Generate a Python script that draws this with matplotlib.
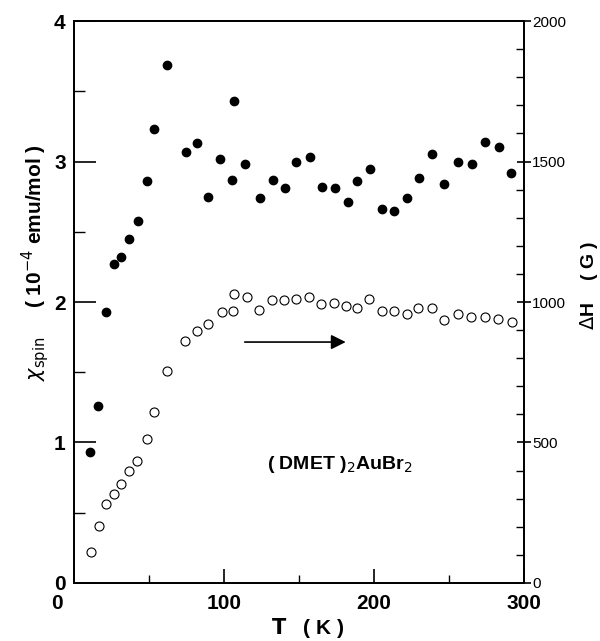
import matplotlib
matplotlib.use('Agg')
import matplotlib.pyplot as plt
from matplotlib.ticker import MultipleLocator
import matplotlib.transforms as mtransforms

plt.rcParams['font.family'] = ['Liberation Sans', 'DejaVu Sans']

# spin susceptibility (filled circles), 10^-4 emu/mol
t_chi = [10.7, 16.2, 21.1, 26.7, 31.6, 36.9, 42.4, 48.9, 53.5, 61.8,
         74.7, 81.8, 89.1, 97.6, 105.3, 106.7, 114.2, 123.8, 132.9, 140.7,
         147.8, 157.3, 165.1, 174.0, 182.4, 188.9, 197.3, 205.3, 213.3, 222.2,
         230.2, 238.7, 246.7, 256.0, 265.3, 274.0, 283.3, 291.3]
chi = [0.93, 1.26, 1.93, 2.27, 2.32, 2.45, 2.58, 2.86, 3.23, 3.69,
       3.07, 3.13, 2.75, 3.02, 2.87, 3.43, 2.98, 2.74, 2.87, 2.81,
       3.00, 3.03, 2.82, 2.81, 2.71, 2.86, 2.95, 2.66, 2.65, 2.74,
       2.88, 3.05, 2.84, 3.00, 2.98, 3.14, 3.10, 2.92]

# linewidth (open circles), G
t_dh = [11.1, 16.7, 21.6, 26.9, 31.6, 36.9, 42.0, 48.9, 53.3, 61.8,
        74.2, 82.2, 89.6, 98.4, 106.0, 106.7, 115.1, 123.6, 131.8, 140.2,
        148.0, 156.9, 164.9, 173.3, 181.6, 188.7, 196.7, 205.3, 213.1, 222.0,
        229.3, 238.9, 246.9, 256.0, 264.9, 274.0, 282.9, 291.8]
dh = [111, 203, 281, 316, 351, 397, 433, 512, 610, 753,
      862, 898, 923, 966, 967, 1027, 1019, 972, 1006, 1007,
      1011, 1019, 994, 997, 986, 978, 1010, 967, 967, 957,
      978, 978, 936, 958, 948, 948, 938, 930]

fig = plt.figure(figsize=(6.0, 6.41), dpi=100)
ax = fig.add_axes([0.1233, 0.0905, 0.75, 0.8767])
ax2 = ax.twinx()

ax.plot(t_chi, chi, 'o', color='black', markersize=6, zorder=3)
ax2.plot(t_dh, dh, 'o', markerfacecolor='none', markeredgecolor='black',
         markersize=6.5, markeredgewidth=0.8, zorder=3)

ax.set_xlim(0, 300)
ax.set_ylim(0, 4)
ax2.set_ylim(0, 2000)

ax.xaxis.set_major_locator(MultipleLocator(100))
ax.xaxis.set_minor_locator(MultipleLocator(50))
ax.yaxis.set_major_locator(MultipleLocator(1))
ax.yaxis.set_minor_locator(MultipleLocator(0.5))
ax2.yaxis.set_major_locator(MultipleLocator(500))
ax2.yaxis.set_minor_locator(MultipleLocator(100))

ax.tick_params(axis='x', which='major', direction='in', length=10, width=1.2,
               labelsize=15, pad=8)
ax.tick_params(axis='x', which='minor', direction='in', length=6, width=1.0)
ax.tick_params(axis='y', which='major', direction='in', length=16, width=1.2,
               labelsize=15, pad=6, right=False)
ax.tick_params(axis='y', which='minor', direction='in', length=8, width=1.0, right=False)
ax2.tick_params(axis='y', which='major', direction='inout', length=10, width=1.2,
                labelsize=11, pad=1)
ax2.tick_params(axis='y', which='minor', direction='in', length=6, width=1.0)

for a in (ax, ax2):
    for s in a.spines.values():
        s.set_linewidth(1.3)

ax.set_xticks([0, 100, 200, 300])
ax.set_xticklabels(['0', '100', '200', '300'])
for lab in ax.get_xticklabels() + ax.get_yticklabels():
    lab.set_fontweight('bold')

# the "0" sits a bit left of the axis corner
off = mtransforms.ScaledTranslation(-17 / 100, 0, fig.dpi_scale_trans)
xl = ax.get_xticklabels()
xl[0].set_transform(xl[0].get_transform() + off)

ax.set_xlabel(r'$\mathbf{T}$   ( K )', fontsize=15, fontweight='bold',
              va='center')
ax.xaxis.set_label_coords(0.52, -0.08)
ax.set_ylabel(r'$\chi_{\rm spin}$     ( 10$^{-4}$ emu/mol )', fontsize=15,
              fontweight='bold', va='center', ha='center')
ax.yaxis.set_label_coords(-0.087, 0.57)
ax2.set_ylabel(r'$\Delta$H    ( G )', fontsize=14, fontweight='bold',
               va='center', ha='center')
ax2.yaxis.set_label_coords(1.145, 0.53)

ax.annotate('', xy=(183, 1.715), xytext=(112, 1.715),
            arrowprops=dict(arrowstyle='-|>', color='black', lw=1.2,
                            mutation_scale=22))
ax.text(129, 0.84, r'( DMET )$_2$AuBr$_2$', fontsize=14, fontweight='bold',
        va='center', ha='left')

fig.savefig('out.png', dpi=100)
